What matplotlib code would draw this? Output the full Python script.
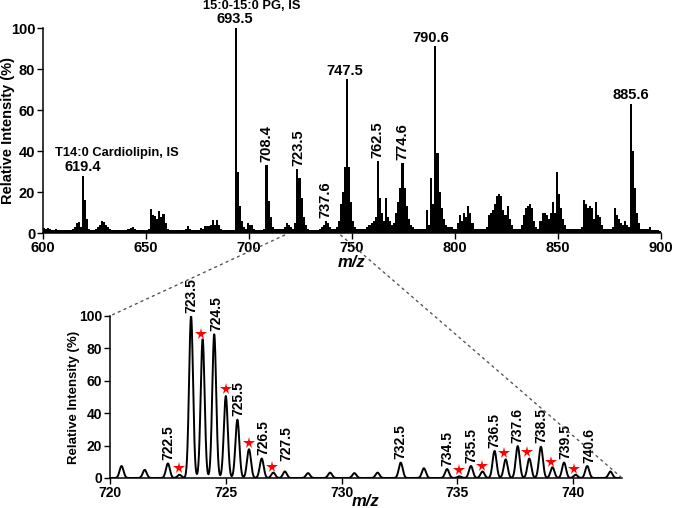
import matplotlib
matplotlib.use("Agg")
import matplotlib.pyplot as plt
import numpy as np
from matplotlib.patches import ConnectionPatch

plt.rcParams["font.family"] = ["Liberation Sans", "DejaVu Sans"]
plt.rcParams["font.weight"] = "bold"
plt.rcParams["axes.labelweight"] = "bold"

# full scan, one intensity per m/z unit starting at 600.5
full_int = [
    2.5, 2, 2.5, 2, 1.5, 1.5, 2, 1.5, 1.5, 1.5,
    1.5, 1.5, 1.5, 1.5, 2, 3, 5, 5.5, 3, 28,
    16, 7, 2, 1.5, 1.5, 2, 3, 4, 6, 5.5,
    4, 3, 2, 1.5, 1.5, 1.5, 1.5, 1.5, 1.5, 1.5,
    1.5, 2, 2.5, 3, 2, 1.5, 1.5, 1.5, 1.5, 1.5,
    1.5, 2, 11.5, 9, 8.5, 7, 10.5, 8, 9.5, 5,
    2, 1.5, 1.5, 1.5, 1.5, 1.5, 1.5, 1.5, 1.5, 2,
    3.5, 2, 1.5, 1.5, 1.5, 1.5, 2.5, 2, 3.5, 3.5,
    3.5, 4, 6.5, 4, 6.5, 4, 2, 1.5, 1.5, 1.5,
    1.5, 1.5, 1.5, 100, 30, 13, 6, 3, 2, 5,
    4, 4, 2, 1.5, 1.5, 1.5, 1.5, 2, 33, 15.5,
    8, 3, 2, 2, 2, 2, 2, 3, 5, 4,
    3, 2, 5, 31, 27, 17, 8, 4, 2, 1.5,
    1.5, 1.5, 1.5, 1.5, 2, 3, 4, 6, 5, 3,
    2, 2, 3, 6, 14, 20, 32, 75, 32, 15,
    6, 3, 2, 2, 2, 2, 2, 3, 4, 5,
    6, 8, 35, 17, 10, 6, 17, 8, 6, 4,
    5, 10, 15, 22, 34, 22, 13, 7, 4, 3,
    2, 2, 2, 2, 2, 2, 11, 4, 27, 14,
    91, 39, 20, 12, 7, 4, 3, 3, 3, 2,
    2, 5, 9, 6, 10, 8, 13, 10, 5, 2,
    2, 2, 2, 2, 2, 3, 9, 10, 11, 14,
    18, 19, 18, 11, 9, 13, 7, 4, 2, 2,
    2, 2, 4, 9, 12, 13, 14, 12, 6, 3,
    2, 6, 10, 10, 9, 7, 10, 15, 10, 30,
    19, 12, 7, 4, 2, 2, 2, 2, 2, 2,
    2, 3, 16, 14, 12, 13, 12, 7, 15, 9,
    8, 4, 2, 2, 2, 2, 3, 12, 9, 7,
    5, 4, 6, 4, 3, 63, 40, 22, 10, 5,
    2, 2, 2, 2, 3, 1.5, 1.5, 1.5, 1.5, 1,
]
full_mz = np.arange(len(full_int)) + 600.5

# labelled peaks of the full scan: (text, m/z, intensity, vertical?)
top_labels = [
    ("619.4", 619.4, 28, False),
    ("693.5", 693.3, 100, False),
    ("708.4", 708.4, 33, True),
    ("723.5", 723.9, 31, True),
    ("737.6", 737.0, 6, True),
    ("747.5", 746.3, 75, False),
    ("762.5", 762.5, 35, True),
    ("774.6", 774.6, 34, True),
    ("790.6", 788.2, 91, False),
    ("885.6", 885.1, 63, False),
]

# zoomed region 720-742: peak centres and heights
zoom_mz = [720.5, 721.5, 722.5, 723.0, 723.5, 724.0, 724.5, 725.0, 725.5, 726.0,
           726.55, 727.05, 727.55, 728.55, 729.5, 730.55, 731.55, 732.55, 733.55,
           734.55, 735.08, 735.58, 736.08, 736.6, 737.08, 737.6, 738.1, 738.6,
           739.1, 739.6, 740.1, 740.6, 741.6]
zoom_int = [7.4, 5, 9, 2, 100, 85.6, 88.7, 50.6, 36, 17.7,
            12, 3.3, 4, 3, 3.3, 3, 3.3, 9.5, 6,
            5.5, 1, 7.4, 4, 16.7, 11.5, 19.7, 12, 19.3,
            6.6, 9.5, 2, 7.4, 4]

zoom_labels = ["722.5", "723.5", "724.5", "725.5", "726.5", "727.5", "732.5",
               "734.5", "735.5", "736.5", "737.6", "738.5", "739.5", "740.6"]
zoom_label_mz = [722.5, 723.5, 724.6, 725.55, 726.6, 727.6, 732.55,
                 734.55, 735.6, 736.6, 737.6, 738.6, 739.65, 740.7]
zoom_label_int = [9, 100, 88.7, 36, 12, 8.5, 9.5,
                  5.5, 7.4, 16.7, 19.7, 19.3, 10, 7.4]

star_mz = [723.0, 723.95, 725.0, 726.0, 727.0, 735.05, 736.05, 737.0, 738.0, 739.05, 740.05]
star_int = [6, 88.7, 54.7, 21.4, 7, 5, 7.4, 15.6, 16, 10, 5.5]


def style_axes(ax, fs):
    for side in ("top", "right"):
        ax.spines[side].set_visible(False)
    for side in ("left", "bottom"):
        ax.spines[side].set_linewidth(1.1)
    ax.tick_params(direction="out", length=4, width=1, labelsize=fs, pad=1.5)
    for lbl in ax.get_xticklabels() + ax.get_yticklabels():
        lbl.set_fontweight("bold")


fig = plt.figure(figsize=(6.73, 5.08), dpi=100)
ax_top = fig.add_axes([0.0639, 0.5413, 0.9183, 0.4035])
ax_bot = fig.add_axes([0.1634, 0.0591, 0.7608, 0.3189])

# full scan
ax_top.bar(full_mz, full_int, width=1.0, color="black", linewidth=0)
ax_top.set_xlim(600, 900)
ax_top.set_ylim(0, 100)
ax_top.set_xticks(np.arange(600, 901, 50))
ax_top.set_yticks(np.arange(0, 101, 20))
ax_top.set_ylabel("Relative Intensity (%)", fontsize=10.5)
ax_top.yaxis.set_label_coords(-0.046, 0.5)
ax_top.set_xlabel("m/z", fontsize=12, style="italic", labelpad=0)
style_axes(ax_top, 10.5)

for text, x, y, vert in top_labels:
    if vert:
        ax_top.text(x, y + 1.5, text, rotation=90, ha="center", va="bottom",
                    fontsize=10.5, fontweight="bold")
    else:
        ax_top.text(x, y + 0.8, text, ha="center", va="bottom",
                    fontsize=10.5, fontweight="bold", clip_on=False)
ax_top.text(636, 39, "T14:0 Cardiolipin, IS", ha="center", va="center",
            fontsize=9.3, fontweight="bold")
ax_top.text(701.5, 110.6, "15:0-15:0 PG, IS", ha="center", va="center",
            fontsize=9.3, fontweight="bold", clip_on=False)

# zoomed region, peaks drawn as narrow gaussian profiles
grid = np.linspace(720, 742.1, 3000)
profile = np.zeros_like(grid)
for c, h in zip(zoom_mz, zoom_int):
    profile += h * np.exp(-0.5 * ((grid - c) / 0.085) ** 2)
ax_bot.plot(grid, profile, color="black", linewidth=1.4)
ax_bot.set_xlim(720, 742.1)
ax_bot.set_ylim(0, 100)
ax_bot.set_xticks(np.arange(720, 741, 5))
ax_bot.set_yticks(np.arange(0, 101, 20))
ax_bot.set_ylabel("Relative Intensity (%)", fontsize=9.5)
ax_bot.yaxis.set_label_coords(-0.058, 0.5)
ax_bot.set_xlabel("m/z", fontsize=12, style="italic", labelpad=-4)
style_axes(ax_bot, 10)

for text, x, y in zip(zoom_labels, zoom_label_mz, zoom_label_int):
    ax_bot.text(x, y + 2, text, rotation=90, ha="center", va="bottom",
                fontsize=10, fontweight="bold", clip_on=False)
ax_bot.plot(star_mz, star_int, linestyle="none", marker="*", color="red",
            markersize=8.5, markeredgewidth=0, clip_on=False)

# dotted guides linking the zoom window
for xa, ya, xb, yb in [(717.3, -1, 720, 100), (744.5, -1, 742.1, 0)]:
    con = ConnectionPatch(xyA=(xa, ya), coordsA=ax_top.transData,
                          xyB=(xb, yb), coordsB=ax_bot.transData,
                          linestyle=(0, (1.5, 3)), color="#555555", linewidth=1)
    fig.add_artist(con)

fig.savefig("out.png", dpi=100)
